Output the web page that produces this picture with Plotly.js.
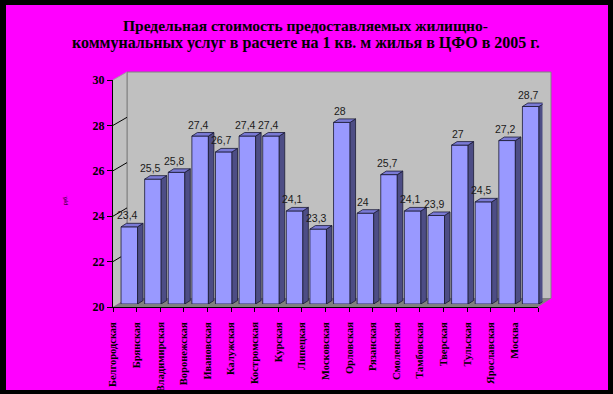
<!DOCTYPE html>
<html>
<head>
<meta charset="utf-8">
<script src="https://cdn.plot.ly/plotly-3.0.1.min.js"></script>
<style>html,body{margin:0;padding:0;background:#000;}#chart{width:613px;height:394px;}</style>
</head>
<body>
<div id="chart"></div>
<script>
// ---- data ----
const categories = ['Белгородская','Брянская','Владимирская','Воронежская','Ивановская','Калужская','Костромская','Курская','Липецкая','Московская','Орловская','Рязанская','Смоленская','Тамбовская','Тверская','Тульская','Ярославская','Москва'];
const values = [23.4, 25.5, 25.8, 27.4, 26.7, 27.4, 27.4, 24.1, 23.3, 28, 24, 25.7, 24.1, 23.9, 27, 24.5, 27.2, 28.7];
const yTicks = [20, 22, 24, 26, 28, 30];
const gridTicks = [22, 24, 26, 28];
const titleLine1 = 'Предельная стоимость предоставляемых жилищно-';
const titleLine2 = 'коммунальных услуг в расчете на 1 кв. м жилья в ЦФО в 2005 г.';
const yTitle = 'руб.';

// ---- geometry (pixels) ----
const W = 613, H = 394;
const yMin = 20, yMax = 30;
const front = {x0:113, x1:538, yT:80, yB:307};
const back  = {x0:127, x1:551, yT:72, yB:298.5};
const barP  = {x0:117.5, x1:542.5, yT:77, yB:304};
const fx = p => p / W;
const fy = p => 1 - p / H;
const n = categories.length;
const barW = 0.70;
const pxPerCat = (barP.x1 - barP.x0) / n;
const pxPerUnit = (barP.yB - barP.yT) / (yMax - yMin);
const dX = 5.5 / pxPerCat;
const dY = 3.5 / pxPerUnit;
const idx = categories.map((c, i) => i);

// side and top faces
const sideX = [], sideY = [], topX = [], topY = [];
values.forEach((v, i) => {
  const r = i + barW / 2, l = i - barW / 2;
  sideX.push(r, r + dX, r + dX, r, r, null);
  sideY.push(yMin, yMin + dY, v + dY, v, yMin, null);
  topX.push(l, l + dX, r + dX, r, l, null);
  topY.push(v, v + dY, v + dY, v, v, null);
});

const traces = [
  // invisible anchor trace so the front axes get drawn
  {type:'scatter', x: idx.map(i => i + 0.5), y: values, xaxis:'x', yaxis:'y', mode:'markers',
   marker:{opacity:0, size:1}, hoverinfo:'skip', showlegend:false},
  {type:'bar', x: idx, y: values.map(v => v - yMin), base: yMin, width: barW,
   xaxis:'x3', yaxis:'y3', marker:{color:'#9999FF', line:{color:'#1a1a33', width:0.8}},
   hoverinfo:'skip', showlegend:false},
  {type:'scatter', x: sideX, y: sideY, xaxis:'x3', yaxis:'y3', mode:'lines', fill:'toself',
   fillcolor:'#4D4D85', line:{color:'#1a1a33', width:0.8}, hoverinfo:'skip', showlegend:false},
  {type:'scatter', x: topX, y: topY, xaxis:'x3', yaxis:'y3', mode:'lines', fill:'toself',
   fillcolor:'#7A7AD6', line:{color:'#1a1a33', width:0.8}, hoverinfo:'skip', showlegend:false}
];

const yFront = v => front.yB - (v - yMin) / (yMax - yMin) * (front.yB - front.yT);
const yBack  = v => back.yB  - (v - yMin) / (yMax - yMin) * (back.yB - back.yT);

const shapes = [
  {type:'rect', xref:'paper', yref:'paper', x0:fx(6), x1:fx(608), y0:fy(390), y1:fy(5),
   fillcolor:'#FF00FF', line:{width:0}, layer:'below'},
  {type:'rect', xref:'paper', yref:'paper', x0:fx(back.x0), x1:fx(back.x1), y0:fy(back.yB), y1:fy(back.yT),
   fillcolor:'#C0C0C0', line:{color:'#808080', width:1}, layer:'below'},
  {type:'path', xref:'paper', yref:'paper', layer:'below',
   path:`M ${fx(front.x0)} ${fy(front.yT)} L ${fx(back.x0)} ${fy(back.yT)} L ${fx(back.x0)} ${fy(back.yB)} L ${fx(front.x0)} ${fy(front.yB)} Z`,
   fillcolor:'#C0C0C0', line:{width:0}},
  {type:'path', xref:'paper', yref:'paper', layer:'below',
   path:`M ${fx(front.x0)} ${fy(front.yB)} L ${fx(back.x0)} ${fy(back.yB)} L ${fx(back.x1)} ${fy(back.yB)} L ${fx(front.x1)} ${fy(front.yB)} Z`,
   fillcolor:'#808080', line:{width:0}},
  {type:'line', xref:'paper', yref:'paper', layer:'below',
   x0:fx(back.x0), x1:fx(back.x0), y0:fy(back.yT), y1:fy(back.yB), line:{color:'#808080', width:1}},
  {type:'line', xref:'paper', yref:'paper', layer:'below',
   x0:fx(front.x0), x1:fx(back.x0), y0:fy(front.yT), y1:fy(back.yT), line:{color:'#A0A0A0', width:1}}
];
gridTicks.forEach(v => {
  shapes.push({type:'line', xref:'paper', yref:'paper', layer:'below',
    x0:fx(front.x0), y0:fy(yFront(v)), x1:fx(back.x0), y1:fy(yBack(v)), line:{color:'#000', width:1}});
});

const annotations = values.map((v, i) => ({
  x: i, y: v + dY, xref:'x3', yref:'y3', text: String(v).replace('.', ','),
  showarrow:false, xanchor:'center', yanchor:'bottom', xshift:-2, yshift:0,
  font:{family:'Liberation Sans, Arial, sans-serif', size:10.5, color:'#1a1a1a'}
}));
annotations.push(
  {xref:'paper', yref:'paper', x:fx(305), y:fy(25), text:titleLine1, showarrow:false,
   xanchor:'center', yanchor:'middle', font:{family:'Liberation Serif, Times New Roman, serif', size:15.5, color:'#000', weight:'bold'}},
  {xref:'paper', yref:'paper', x:fx(306), y:fy(43), text:titleLine2, showarrow:false,
   xanchor:'center', yanchor:'middle', font:{family:'Liberation Serif, Times New Roman, serif', size:16, color:'#000', weight:'bold'}},
  {xref:'paper', yref:'paper', x:fx(65), y:fy(200), text:yTitle, showarrow:false, textangle:-90,
   xanchor:'center', yanchor:'middle', font:{family:'Liberation Sans, Arial, sans-serif', size:5, color:'#000'}}
);

const tickVals = categories.map((c, i) => i).concat([n]);
const tickText = categories.concat(['']);

const layout = {
  width: W, height: H,
  margin:{l:0, r:0, t:0, b:0, pad:0},
  paper_bgcolor:'#000000', plot_bgcolor:'rgba(0,0,0,0)',
  showlegend:false,
  xaxis:{domain:[fx(front.x0), fx(front.x1)], range:[0, n], anchor:'y', type:'linear',
    tickmode:'array', tickvals: tickVals, ticktext: tickText, tickangle:-90,
    ticks:'outside', ticklen:4, tickcolor:'#000', showline:true, linecolor:'#000', linewidth:1,
    showgrid:false, zeroline:false, automargin:false, ticklabelstandoff:6,
    tickfont:{family:'Liberation Serif, Times New Roman, serif', size:10.5, color:'#000', weight:'bold'}},
  yaxis:{domain:[fy(front.yB), fy(front.yT)], range:[yMin, yMax], anchor:'x',
    tickmode:'array', tickvals: yTicks, ticks:'outside', ticklen:5, tickcolor:'#000',
    showline:true, linecolor:'#000', linewidth:1, showgrid:false, zeroline:false, automargin:false,
    tickfont:{family:'Liberation Serif, Times New Roman, serif', size:12, color:'#000', weight:'bold'}},
  xaxis2:{domain:[fx(back.x0), fx(back.x1)], range:[0, n], anchor:'y2', visible:true,
    showticklabels:false, ticks:'', showline:false, showgrid:false, zeroline:false},
  yaxis2:{domain:[fy(back.yB), fy(back.yT)], range:[yMin, yMax], anchor:'x2',
    tickmode:'array', tickvals: gridTicks, showticklabels:false, ticks:'', showline:false,
    showgrid:true, gridcolor:'#000', gridwidth:1, zeroline:false},
  xaxis3:{domain:[fx(barP.x0), fx(barP.x1)], range:[-0.5, n - 0.5], anchor:'y3', visible:false},
  yaxis3:{domain:[fy(barP.yB), fy(barP.yT)], range:[yMin, yMax], anchor:'x3', visible:false},
  shapes: shapes,
  annotations: annotations
};

Plotly.newPlot('chart', traces, layout, {displayModeBar:false, staticPlot:true});
</script>
</body>
</html>
